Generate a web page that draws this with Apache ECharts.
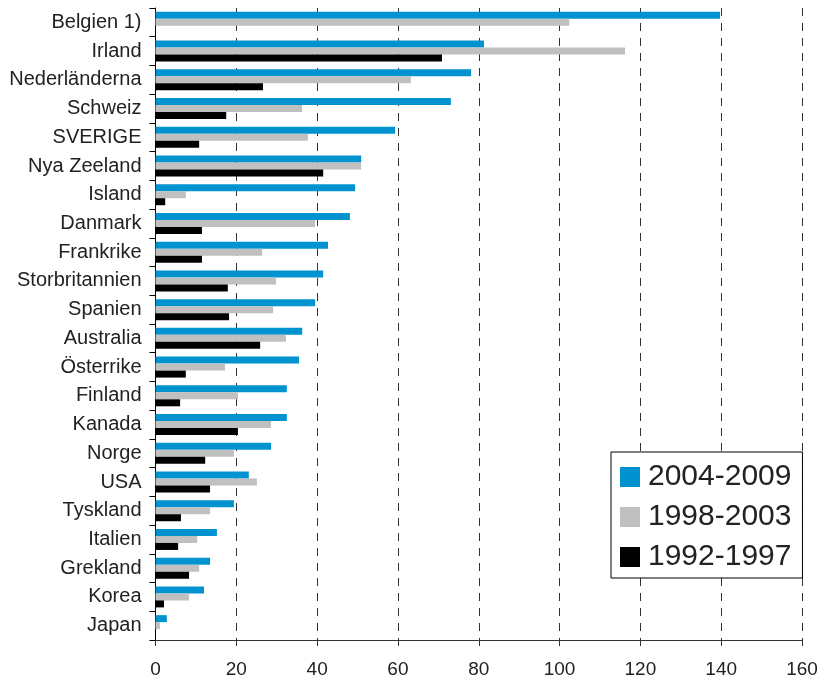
<!DOCTYPE html>
<html><head><meta charset="utf-8">
<script src="https://cdn.jsdelivr.net/npm/echarts@6/dist/echarts.min.js"></script>
<style>html,body{margin:0;padding:0;background:#fff}#c{width:821px;height:680px}</style>
</head><body><div id="c"></div>
<script>
const categories = ["Belgien 1)","Irland","Nederländerna","Schweiz","SVERIGE","Nya Zeeland","Island","Danmark","Frankrike","Storbritannien","Spanien","Australia","Österrike","Finland","Kanada","Norge","USA","Tyskland","Italien","Grekland","Korea","Japan"];
const s2004 = [139.7,81.3,78.1,73.1,59.3,50.9,49.4,48.1,42.7,41.5,39.5,36.3,35.5,32.5,32.5,28.6,23.1,19.4,15.2,13.5,12.0,2.8];
const s1998 = [102.4,116.2,63.2,36.3,37.7,50.9,7.5,39.5,26.4,29.8,29.1,32.3,17.2,20.4,28.6,19.4,25.1,13.5,10.3,10.8,8.3,1.1];
const s1992 = [null,70.9,26.6,17.5,10.8,41.5,2.4,11.5,11.5,17.9,18.2,25.9,7.5,6.1,20.4,12.3,13.5,6.3,5.6,8.3,2.1,0];
const xTicks = {min:0,max:160,interval:20};

const chart = echarts.init(document.getElementById('c'), null, {renderer:'canvas'});
const font = 'Arial, "Liberation Sans", sans-serif';
chart.setOption({
  animation:false,
  textStyle:{fontFamily:font},
  grid:{left:155.5,right:19,top:8,bottom:40,containLabel:false},
  legend:{
    orient:'vertical', left:611, top:452,
    data:['2004-2009','1998-2003','1992-1997'],
    icon:'rect', itemWidth:20, itemHeight:20, itemGap:10,
    backgroundColor:'#fff', borderColor:'#000', borderWidth:1,
    padding:[10,11,6,9],
    textStyle:{fontSize:30, color:'#222', fontFamily:font, padding:[0,0,0,3]}
  },
  xAxis:{
    type:'value', min:xTicks.min, max:xTicks.max, interval:xTicks.interval,
    axisLine:{show:true,lineStyle:{color:'#333',width:1}},
    axisTick:{show:true,length:6,lineStyle:{color:'#333'}},
    axisLabel:{fontSize:19,color:'#222',margin:20,fontFamily:font},
    splitLine:{show:true,lineStyle:{color:'#333',width:1,type:[8,7]}}
  },
  yAxis:{
    type:'category', data:categories, inverse:true,
    axisLine:{show:true,lineStyle:{color:'#000',width:1}},
    axisTick:{show:true,length:6,lineStyle:{color:'#000'}},
    axisLabel:{fontSize:20,color:'#222',margin:14,fontFamily:font}
  },
  series:[
    {name:'2004-2009',type:'bar',data:s2004,barWidth:7,barGap:'0%',itemStyle:{color:'#0093D0'}},
    {name:'1998-2003',type:'bar',data:s1998,barWidth:7,barGap:'0%',itemStyle:{color:'#C0C0C0'}},
    {name:'1992-1997',type:'bar',data:s1992,barWidth:7,barGap:'0%',itemStyle:{color:'#000'}}
  ]
});
</script></body></html>
